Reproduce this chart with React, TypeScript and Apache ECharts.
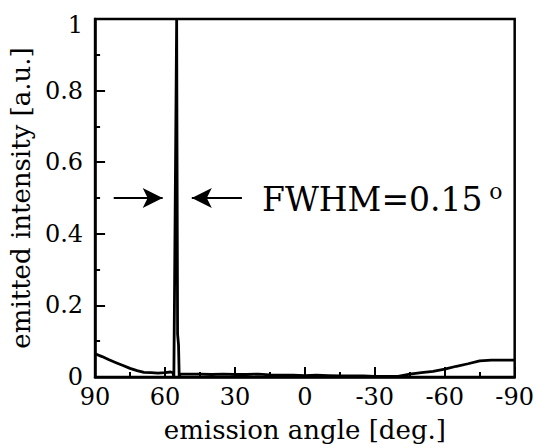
import React, { useEffect, useRef } from "react";
import * as echarts from "echarts";

const angles = [
  90, 87, 84, 81, 78, 75, 72, 69, 66, 63, 60, 57.5, 56.6, 56.2, 55.0, 54.9, 54.6, 54.2, 53.9, 53.5,
  50, 45, 40, 35, 30, 25, 20, 15, 10, 5, 0, -5, -10, -15, -20, -25, -30, -35, -40, -45,
  -50, -55, -60, -65, -70, -75, -80, -85, -90,
];
const intensity = [
  0.065, 0.057, 0.048, 0.04, 0.032, 0.024, 0.018, 0.013, 0.012, 0.011, 0.012, 0.014, 0.012, 0.0, 1.0, 0.75, 0.12, 0.09, 0.0, 0.008,
  0.008, 0.008, 0.007, 0.008, 0.007, 0.007, 0.008, 0.006, 0.005, 0.005, 0.004, 0.005, 0.004, 0.003, 0.003, 0.003, 0.002, 0.002, 0.002, 0.008,
  0.012, 0.016, 0.022, 0.03, 0.037, 0.045, 0.047, 0.047, 0.047,
];
const xTicks = { min: -90, max: 90, interval: 30 };
const yTicks = { min: 0, max: 1, interval: 0.2 };
const arrowLeft = [[82, 0.5], [61, 0.5]];
const arrowRight = [[27, 0.5], [48.5, 0.5]];
const fwhmLabel = "FWHM=0.15";

const FONT = "DejaVu Serif";

export default function App() {
  const ref = useRef<HTMLDivElement>(null);
  useEffect(() => {
    if (!ref.current) return;
    const chart = echarts.init(ref.current, null, { renderer: "svg" });
    const data = angles.map((a, i) => [a, intensity[i]]);
    chart.setOption({
      animation: false,
      backgroundColor: "#fff",
      textStyle: { fontFamily: FONT, color: "#000" },
      grid: {
        left: 92,
        right: 19,
        top: 19,
        bottom: 69,
        show: true,
        borderColor: "#000",
        borderWidth: 2.5,
        backgroundColor: "transparent",
      },
      xAxis: {
        type: "value",
        inverse: true,
        min: xTicks.min,
        max: xTicks.max,
        interval: xTicks.interval,
        name: "emission angle [deg.]",
        nameLocation: "middle",
        nameGap: 40,
        nameTextStyle: { fontFamily: FONT, fontSize: 26, color: "#000" },
        axisLine: { show: true, onZero: false, lineStyle: { color: "#000", width: 2.5 } },
        axisTick: { show: true, inside: true, length: 10, lineStyle: { color: "#000", width: 2 } },
        minorTick: { show: true, splitNumber: 2, length: 5, lineStyle: { color: "#000", width: 2 } },
        splitLine: { show: false },
        axisLabel: { fontFamily: FONT, fontSize: 24, color: "#000", margin: 8 },
      },
      yAxis: {
        type: "value",
        min: yTicks.min,
        max: yTicks.max,
        interval: yTicks.interval,
        name: "emitted intensity [a.u.]",
        nameLocation: "middle",
        nameGap: 52,
        nameTextStyle: { fontFamily: FONT, fontSize: 26, color: "#000" },
        axisLine: { show: true, onZero: false, lineStyle: { color: "#000", width: 2.5 } },
        axisTick: { show: true, inside: true, length: 10, lineStyle: { color: "#000", width: 2 } },
        minorTick: { show: true, splitNumber: 2, length: 5, lineStyle: { color: "#000", width: 2 } },
        splitLine: { show: false },
        axisLabel: {
          fontFamily: FONT,
          fontSize: 24,
          color: "#000",
          margin: 12,
          formatter: (v: number) => (v === 1 ? "{top|1}" : String(v)),
          rich: { top: { fontFamily: FONT, fontSize: 24, color: "#000", padding: [12, 0, 0, 0] } },
        },
      },
      series: [
        {
          type: "line",
          data,
          showSymbol: false,
          symbol: "none",
          lineStyle: { color: "#000", width: 2.8 },
          markLine: {
            silent: true,
            symbol: ["none", "arrow"],
            symbolSize: [15, 20],
            label: { show: false },
            lineStyle: { color: "#000", width: 2, type: "solid" },
            data: [
              [{ coord: arrowLeft[0] }, { coord: arrowLeft[1] }],
              [{ coord: arrowRight[0] }, { coord: arrowRight[1] }],
            ],
          },
        },
      ],
      graphic: [
        {
          type: "text",
          left: 262,
          top: 180,
          style: {
            text: `{a|${fwhmLabel}}  {b|o}`,
            rich: {
              a: { fontFamily: FONT, fontSize: 33, fill: "#000" },
              b: { fontFamily: FONT, fontSize: 22, fill: "#000", verticalAlign: "top", padding: [0, 0, 16, 0] },
            },
          },
        },
      ],
    });
    return () => chart.dispose();
  }, []);
  return <div ref={ref} style={{ width: 537, height: 448, position: "absolute", left: 0, top: 0 }} />;
}
